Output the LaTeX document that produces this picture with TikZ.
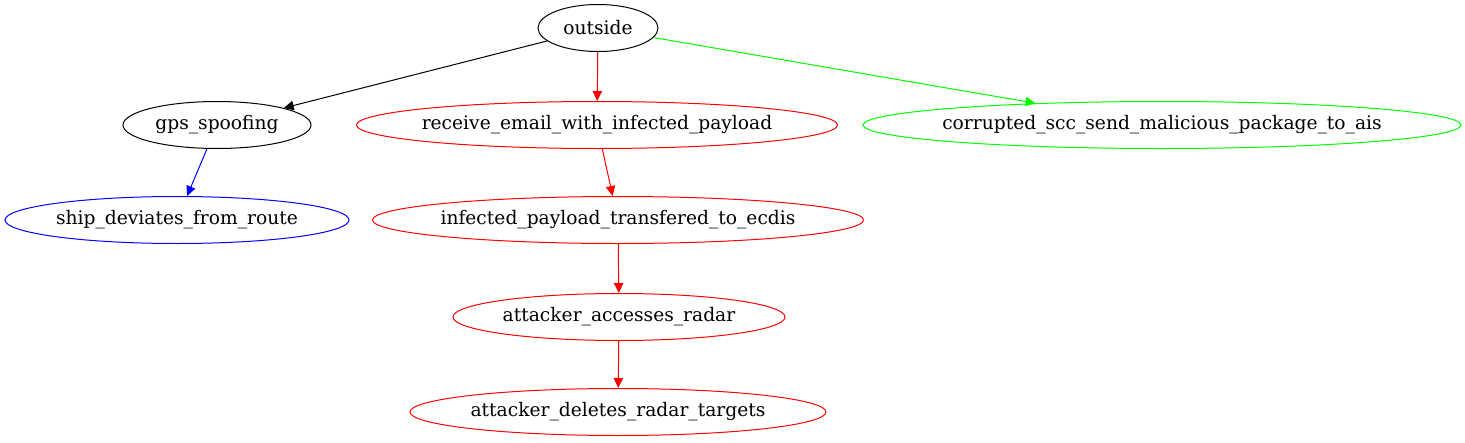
\documentclass[tikz,border=0pt]{standalone}
\usepackage{fontspec}
\setmainfont{DejaVu Serif}
\usepackage{tikz}
\usetikzlibrary{arrows.meta, shapes.geometric}

\begin{document}
\begin{tikzpicture}[
  x=0.75pt, y=-0.75pt,
  font=\fontsize{14}{16}\selectfont,
  line width=0.75pt,
  step box/.style={draw, ellipse, inner sep=0pt, inner xsep=-40pt,
                   minimum height=35.25pt},
  redbox/.style={step box, draw=red},
  link/.style={-{Triangle[length=7.5pt, width=7pt]}},
  redlink/.style={link, red},
]
\useasboundingbox (0,0) rectangle (1465,443);

%% Nodes
\node[step box, minimum width=90pt]    (out)   at (598, 28)  {outside};
\node[step box, minimum width=141pt]   (gps)   at (217, 125) {gps\_spoofing};
\node[redbox, minimum width=360.75pt]  (email) at (597, 125) {receive\_email\_with\_infected\_payload};
\node[step box, draw=green, minimum width=448.5pt] (scc) at (1162, 125)
    {corrupted\_scc\_send\_malicious\_package\_to\_ais};
\node[step box, draw=blue, minimum width=258pt] (route) at (177, 220) {ship\_deviates\_from\_route};
\node[redbox, minimum width=368.25pt]  (ecdis) at (618, 220) {infected\_payload\_transfered\_to\_ecdis};
\node[redbox, minimum width=249pt]     (radar) at (619, 317) {attacker\_accesses\_radar};
\node[redbox, minimum width=312pt]     (tgts)  at (618, 412) {attacker\_deletes\_radar\_targets};

%% Edges
\draw[link] (out) -- (gps);
\draw[redlink] (out) -- (email);
\draw[link, green] (out) -- (scc);
\draw[link, blue] (gps) -- (route);
\draw[redlink] (email) -- (ecdis);
\draw[redlink] (ecdis) -- (radar);
\draw[redlink] (radar) -- (tgts);

\end{tikzpicture}
\end{document}
